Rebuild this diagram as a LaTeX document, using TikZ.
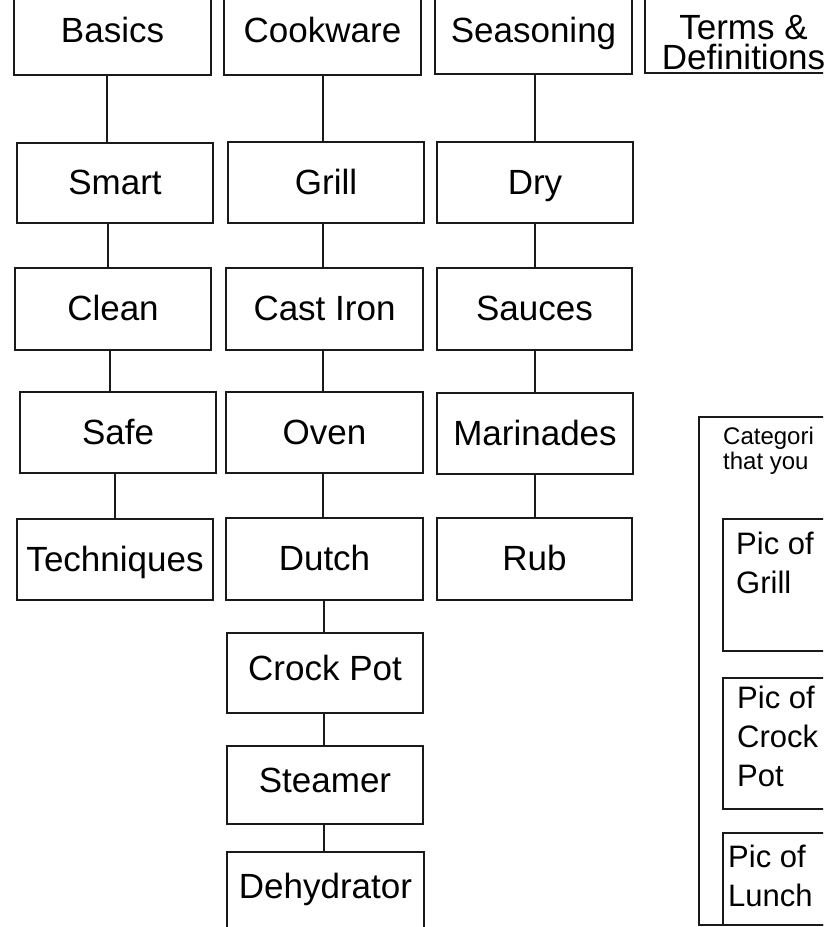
\documentclass[tikz,border=0pt]{standalone}
\usepackage{fontspec}
\setmainfont{Liberation Sans}
\definecolor{ink}{HTML}{1A1A1A}
\newcommand\bx[7][]{\node[box,#1, minimum width={(#4-#3)*1pt}, minimum height={(#6-#5)*1pt}] (#2) at ({(#3+#4)/2},{(#5+#6)/2}) {#7};}
\newcommand\pbx[5]{\node[panel, minimum width={(#3-#2)*1pt}, minimum height={(#5-#4)*1pt}] (#1) at ({(#2+#3)/2},{(#4+#5)/2}) {};}
\begin{document}
\begin{tikzpicture}[x=1pt,y=-1pt,
  box/.style={draw=ink, line width=2.6pt, inner sep=0pt, outer sep=0pt,
    font=\fontsize{35}{42}\selectfont, text height=25pt, text depth=2pt},
  raised/.style={text depth=11pt},
  panel/.style={draw=ink, line width=2.4pt, inner sep=0pt, outer sep=0pt},
  link/.style={draw=ink, line width=2.6pt},
  pictext/.style={inner sep=0pt, anchor=north west, align=left, font=\fontsize{31}{39}\selectfont},
  smalltext/.style={inner sep=0pt, anchor=north west, align=left, font=\fontsize{24}{25}\selectfont}]
\useasboundingbox (0,0) rectangle (823,927);
\fill[white] (0,0) rectangle (823,927);
\clip (0,0) rectangle (823,927);
% row 1
\bx[raised]{basics}{14}{211}{-4}{75}{Basics}
\bx[raised]{cookware}{224}{421}{-4}{75}{Cookware}
\bx[raised]{seasoning}{435}{632}{-4}{74}{Seasoning}
\bx{terms}{645}{842}{-6}{73}{}
\node[inner sep=0pt, anchor=south, align=center, font=\fontsize{35}{30}\selectfont] (termslbl) at (743.5,70) {Terms \&\\Definitions};
% row 2
\bx{smart}{17}{213}{143}{223}{Smart}
\bx{grill}{228}{424}{142}{223}{Grill}
\bx{dry}{437}{633}{142}{223}{Dry}
% row 3
\bx{clean}{15}{211}{268}{350}{Clean}
\bx{castiron}{226}{423}{268}{350}{Cast Iron}
\bx{sauces}{437}{632}{268}{350}{Sauces}
% row 4
\bx{safe}{20}{216}{392}{473}{Safe}
\bx{oven}{226}{423}{392}{473}{Oven}
\bx{marinades}{437}{633}{393}{474}{Marinades}
% row 5
\bx{techniques}{17}{213}{519}{600}{Techniques}
\bx{dutch}{226}{423}{518}{600}{Dutch}
\bx{rub}{437}{632}{518}{600}{Rub}
% column 2 continued
\bx[raised]{crockpot}{227}{423}{633}{713}{Crock Pot}
\bx[raised]{steamer}{227}{423}{746}{824}{Steamer}
\bx[raised]{dehydrator}{227}{424}{852}{930}{Dehydrator}
% connector x positions
\coordinate (a1) at (107,0);
\coordinate (a2) at (108,0);
\coordinate (a3) at (110,0);
\coordinate (a4) at (115,0);
\coordinate (b1) at (323,0);
\coordinate (b2) at (324,0);
\coordinate (c1) at (535,0);
\draw[link] (basics.south -| a1) -- (smart.north -| a1);
\draw[link] (smart.south -| a2) -- (clean.north -| a2);
\draw[link] (clean.south -| a3) -- (safe.north -| a3);
\draw[link] (safe.south -| a4) -- (techniques.north -| a4);
\draw[link] (cookware.south -| b1) -- (grill.north -| b1);
\draw[link] (grill.south -| b1) -- (castiron.north -| b1);
\draw[link] (castiron.south -| b1) -- (oven.north -| b1);
\draw[link] (oven.south -| b1) -- (dutch.north -| b1);
\draw[link] (dutch.south -| b2) -- (crockpot.north -| b2);
\draw[link] (crockpot.south -| b2) -- (steamer.north -| b2);
\draw[link] (steamer.south -| b2) -- (dehydrator.north -| b2);
\draw[link] (seasoning.south -| c1) -- (dry.north -| c1);
\draw[link] (dry.south -| c1) -- (sauces.north -| c1);
\draw[link] (sauces.south -| c1) -- (marinades.north -| c1);
\draw[link] (marinades.south -| c1) -- (rub.north -| c1);
% right panel
\pbx{panelbox}{699}{920}{417}{925}
\node[smalltext] (cattext) at (723,427) {Categori\\that you};
\pbx{grillpic}{723}{920}{519}{651}
\node[pictext] (grilltext) at (736,532) {Pic of\\Grill};
\pbx{crockpic}{723}{920}{678}{809}
\node[pictext] (crocktext) at (737,686) {Pic of\\Crock\\Pot};
\pbx{lunchpic}{723}{920}{833}{925}
\node[pictext] (lunchtext) at (728,845) {Pic of\\Lunch};
\end{tikzpicture}
\end{document}
